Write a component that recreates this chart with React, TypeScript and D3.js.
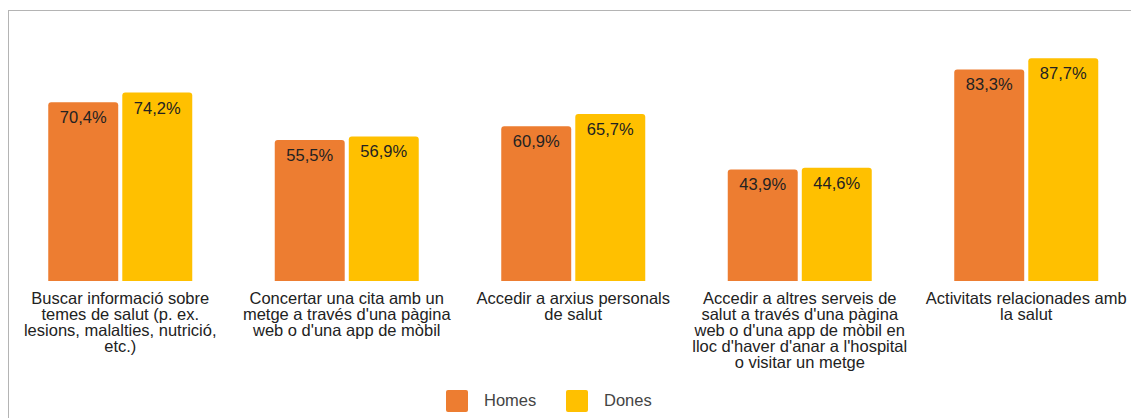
import React from "react";
import * as d3 from "d3";

const categories = [
  "Buscar informació sobre temes de salut",
  "Concertar una cita",
  "Accedir a arxius personals",
  "Accedir a altres serveis",
  "Activitats relacionades",
];
const categoryLines: string[][] = [
  ["Buscar informació sobre", "temes de salut (p. ex.", "lesions, malalties, nutrició,", "etc.)"],
  ["Concertar una cita amb un", "metge a través d'una pàgina", "web o d'una app de mòbil"],
  ["Accedir a arxius personals", "de salut"],
  ["Accedir a altres serveis de", "salut a través d'una pàgina", "web o d'una app de mòbil en", "lloc d'haver d'anar a l'hospital", "o visitar un metge"],
  ["Activitats relacionades amb", "la salut"],
];
const seriesNames = ["Homes", "Dones"];
const homes = [70.4, 55.5, 60.9, 43.9, 83.3];
const dones = [74.2, 56.9, 65.7, 44.6, 87.7];
const seriesColors = ["#ED7D31", "#FFC000"];

const W = 1131;
const H = 418;
const FONT = "'Liberation Sans', Arial, sans-serif";

function topRounded(x: number, y: number, w: number, h: number, r: number) {
  const p = d3.path();
  p.moveTo(x, y + h);
  p.lineTo(x, y + r);
  p.quadraticCurveTo(x, y, x + r, y);
  p.lineTo(x + w - r, y);
  p.quadraticCurveTo(x + w, y, x + w, y + r);
  p.lineTo(x + w, y + h);
  p.closePath();
  return p.toString();
}

export default function App() {
  const x0 = d3.scaleBand<string>().domain(categories).range([7, 1139.5]).padding(0);
  const x1 = d3.scaleBand<string>().domain(seriesNames).range([-72, 72]).paddingInner(0.055);
  const y = d3.scaleLinear().domain([0, 100]).range([281, 27]);
  const values = [homes, dones];
  const fmt = (v: number) => v.toFixed(1).replace(".", ",") + "%";

  return (
    <svg width={W} height={H} style={{ position: "absolute", left: 0, top: 0, background: "#fff" }} fontFamily={FONT}>
      <rect x={8.5} y={10.5} width={W + 10} height={H + 10} fill="#fff" stroke="#b4b4b4" strokeWidth={1} />
      {categories.map((c, ci) => {
        const cx = x0(c)! + x0.bandwidth() / 2;
        return (
          <g key={c}>
            {seriesNames.map((s, si) => {
              const v = values[si][ci];
              const bx = cx + x1(s)!;
              const by = y(v);
              const bh = y(0) - by;
              return (
                <g key={s}>
                  <path d={topRounded(bx, by, x1.bandwidth(), bh, 3)} fill={seriesColors[si]} />
                  <text x={bx + x1.bandwidth() / 2} y={by + 21} textAnchor="middle" fontSize={16.5} fill="#222">
                    {fmt(v)}
                  </text>
                </g>
              );
            })}
            <text x={cx} y={y(0) + 23} textAnchor="middle" fontSize={16.5} fill="#222">
              {categoryLines[ci].map((l, li) => (
                <tspan key={li} x={cx} dy={li === 0 ? 0 : 16}>
                  {l}
                </tspan>
              ))}
            </text>
          </g>
        );
      })}
      <g>
        {seriesNames.map((s, si) => {
          const lx = 446 + si * 120;
          return (
            <g key={s}>
              <rect x={lx} y={390} width={22} height={22} rx={2} fill={seriesColors[si]} />
              <text x={lx + 38} y={406} fontSize={16.5} fill="#444">
                {s}
              </text>
            </g>
          );
        })}
      </g>
    </svg>
  );
}
